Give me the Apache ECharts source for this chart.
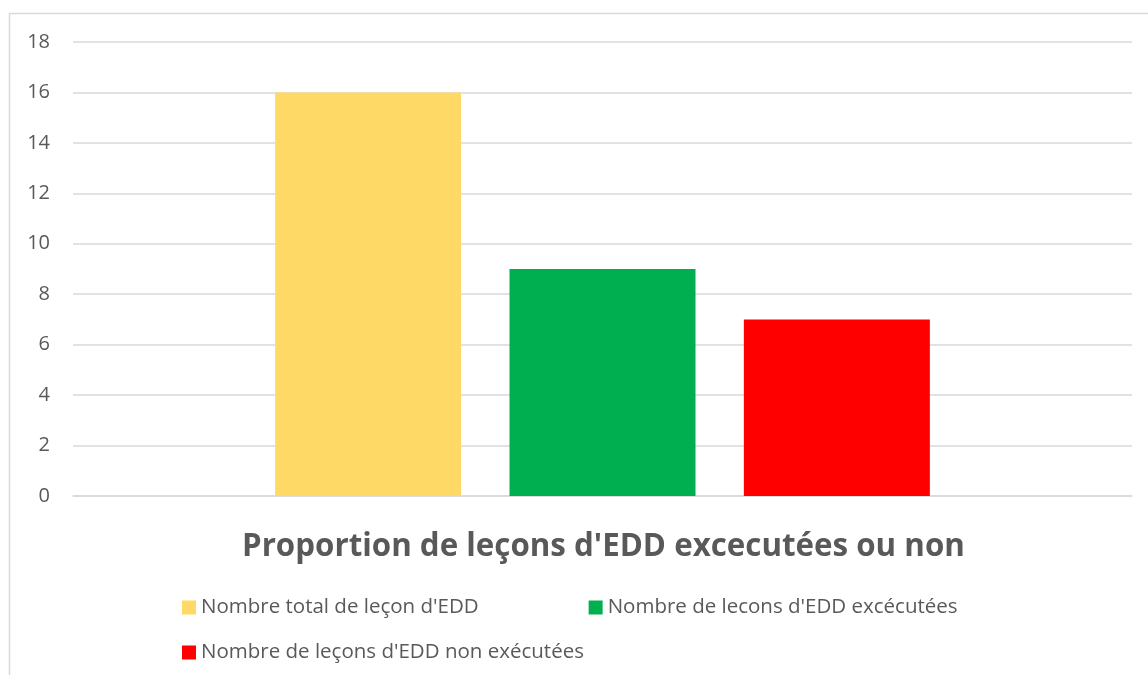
<!DOCTYPE html>
<html>
<head>
<meta charset="utf-8">
<script src="https://cdn.jsdelivr.net/npm/echarts@6/dist/echarts.min.js"></script>
<style>
  html, body { margin: 0; padding: 0; background: #fff; }
  #chart { width: 1148px; height: 675px; }
</style>
</head>
<body>
<div id="chart"></div>
<script>
// données
var categories = [''];
var seriesNames = ["Nombre total de leçon d'EDD", "Nombre de lecons d'EDD excécutées", "Nombre de leçons d'EDD non exécutées"];
var seriesValues = [[16], [9], [7]];
var seriesColors = ['#ffd966', '#00b050', '#ff0000'];
var yTicks = { min: 0, max: 18, interval: 2 };

var FONT = '"Open Sans", "Liberation Sans", sans-serif';
var myChart = echarts.init(document.getElementById('chart'));

var series = seriesNames.map(function (name, i) {
    return {
        name: name,
        type: 'bar',
        data: seriesValues[i],
        barWidth: 186,
        barGap: '26%',
        itemStyle: { color: seriesColors[i] }
    };
});

var legendStyle = {
    itemWidth: 14,
    itemHeight: 14,
    icon: 'rect',
    textStyle: { fontFamily: FONT, fontSize: 20.5, color: '#595959' }
};

option = {
    animation: false,
    title: {
        text: "Proportion de leçons d'EDD excecutées ou non",
        left: 237,
        top: 527,
        textStyle: { fontFamily: FONT, fontSize: 31.3, fontWeight: 'bold', color: '#595959' }
    },
    legend: [
        Object.assign({ data: [seriesNames[0], seriesNames[1]], left: 177, top: 592, itemGap: 110 }, legendStyle),
        Object.assign({ data: [seriesNames[2]], left: 177, top: 637 }, legendStyle)
    ],
    grid: { left: 73, right: 16, top: 42, bottom: 179, containLabel: false },
    xAxis: [{
        type: 'category',
        data: categories,
        axisLine: { lineStyle: { color: '#d9d9d9', width: 1.5 } },
        axisTick: { show: false },
        axisLabel: { show: false }
    }],
    yAxis: [{
        type: 'value',
        min: yTicks.min,
        max: yTicks.max,
        interval: yTicks.interval,
        axisLine: { show: false },
        axisTick: { show: false },
        splitLine: { lineStyle: { color: '#d9d9d9', width: 1.5 } },
        axisLabel: { fontFamily: FONT, fontSize: 20, color: '#595959', margin: 23 }
    }],
    graphic: [{
        type: 'rect',
        shape: { x: 9.5, y: 13.5, width: 1200, height: 700 },
        style: { fill: 'none', stroke: '#d9d9d9', lineWidth: 1.5 },
        silent: true
    }],
    series: series
};
myChart.setOption(option);
</script>
</body>
</html>
